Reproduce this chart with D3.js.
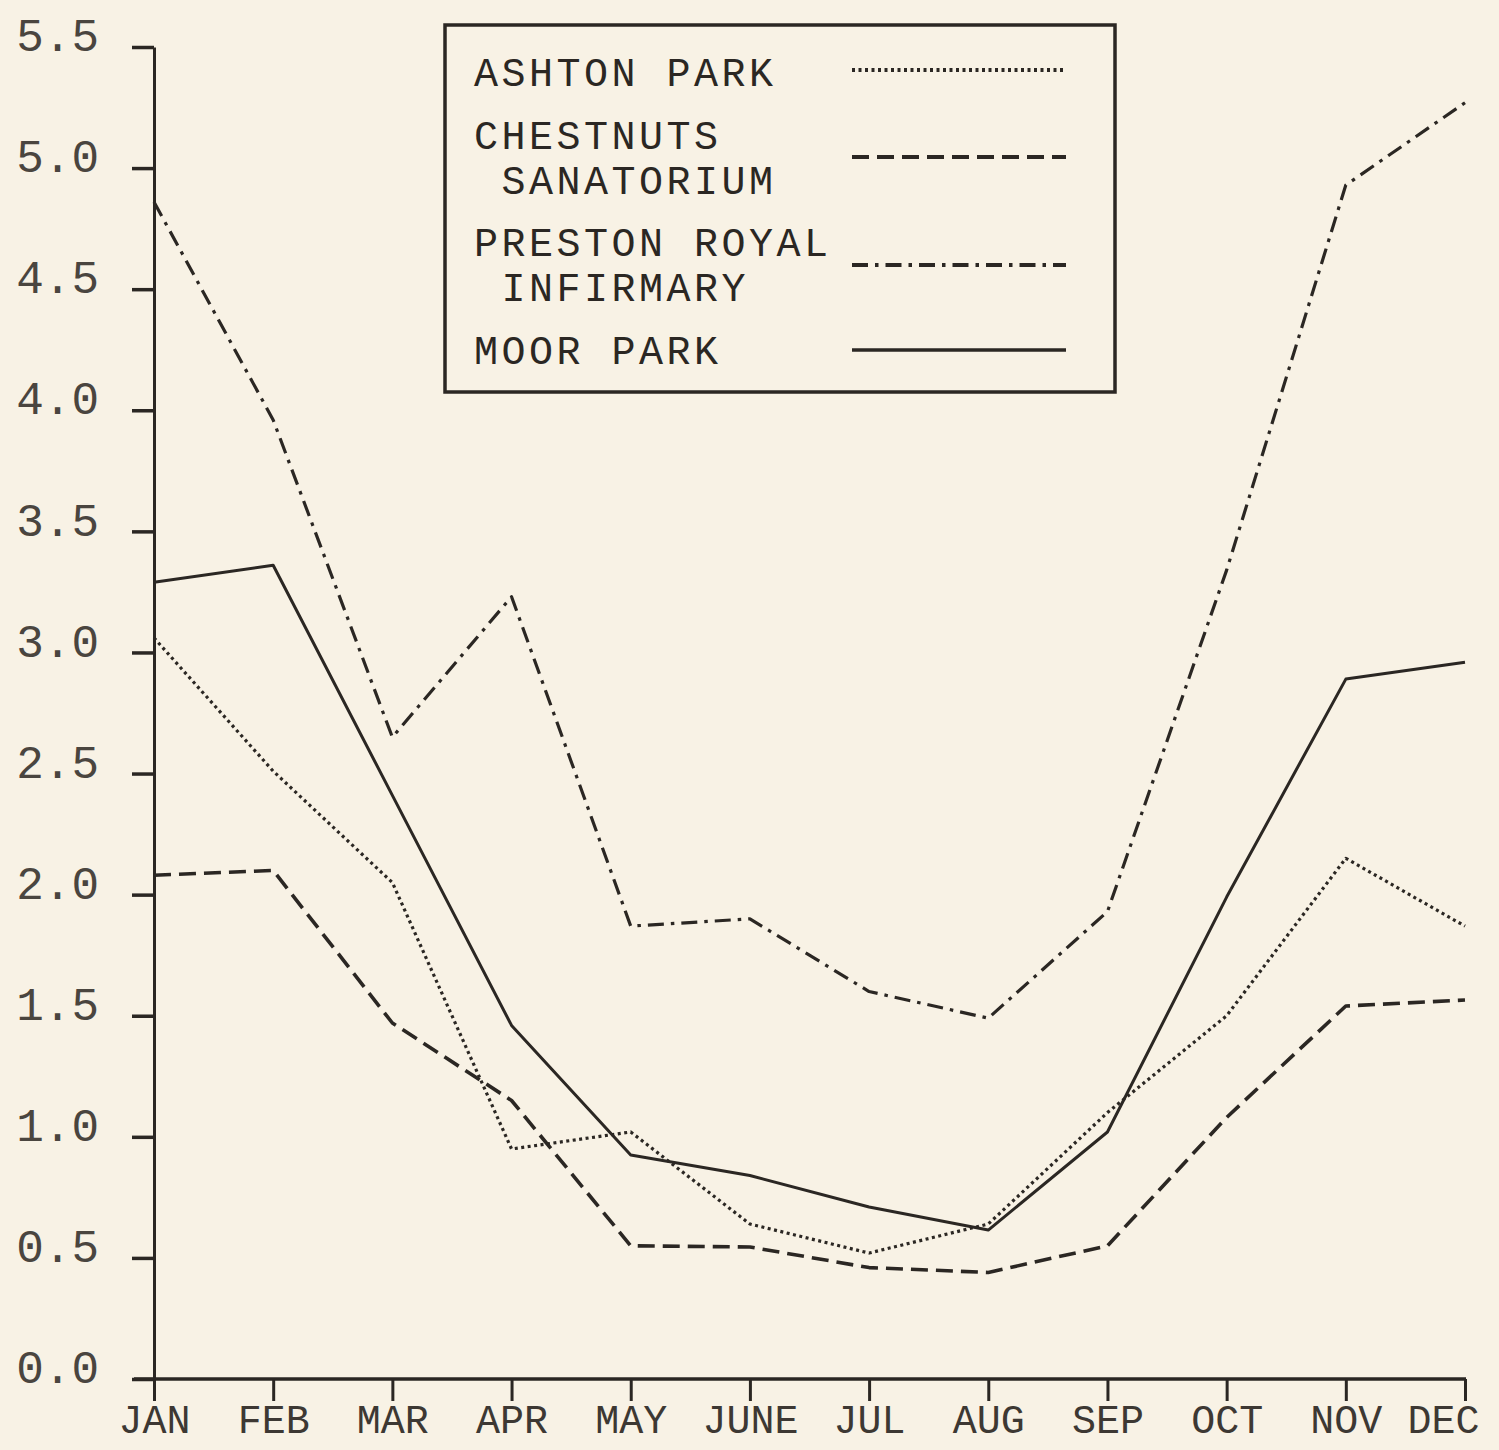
<!DOCTYPE html>
<html>
<head>
<meta charset="utf-8">
<script src="https://cdn.jsdelivr.net/npm/d3@7"></script>
<style>
  html, body { margin: 0; padding: 0; background: #f8f2e5; }
  svg { display: block; }
  text { font-family: "Liberation Mono", "Courier New", monospace; }
</style>
</head>
<body>
<svg width="1499" height="1450"></svg>
<script>
const months = ['JAN', 'FEB', 'MAR', 'APR', 'MAY', 'JUNE', 'JUL', 'AUG', 'SEP', 'OCT', 'NOV', 'DEC'];
const yTicks = [0, 0.5, 1, 1.5, 2, 2.5, 3, 3.5, 4, 4.5, 5, 5.5];

const ashtonPark = [3.06, 2.51, 2.05, 0.95, 1.02, 0.64, 0.52, 0.64, 1.10, 1.50, 2.15, 1.87];
const chestnuts = [2.08, 2.10, 1.47, 1.15, 0.55, 0.545, 0.46, 0.44, 0.55, 1.08, 1.54, 1.565];
const preston = [4.86, 3.96, 2.65, 3.23, 1.87, 1.90, 1.60, 1.49, 1.93, 3.34, 4.93, 5.27];
const moorPark = [3.29, 3.36, 2.41, 1.46, 0.925, 0.84, 0.71, 0.615, 1.02, 1.99, 2.89, 2.96];

const seriesNames = [['ASHTON PARK'], ['CHESTNUTS', ' SANATORIUM'], ['PRESTON ROYAL', ' INFIRMARY'], ['MOOR PARK']];

const ink = '#2b2723';
const series = [
  {name: seriesNames[0], values: ashtonPark, dash: '3,3.5', width: 3.2},
  {name: seriesNames[1], values: chestnuts, dash: '17,8', width: 3.6},
  {name: seriesNames[2], values: preston, dash: '16,7,3.5,7', width: 3.2},
  {name: seriesNames[3], values: moorPark, dash: null, width: 3},
];

const svg = d3.select('svg');

const x = d3.scalePoint()
    .domain(months)
    .range([154, 1465]);

const y = d3.scaleLinear()
    .domain([0, 5.5])
    .range([1379, 47]);

// y axis
const yAxis = svg.append('g')
    .attr('transform', `translate(${x('JAN')},0)`)
    .call(d3.axisLeft(y)
        .tickValues(yTicks)
        .tickFormat(d3.format('.1f'))
        .tickSize(22)
        .tickSizeOuter(0)
        .tickPadding(33));
yAxis.select('.domain').attr('stroke', ink).attr('stroke-width', 3);
yAxis.selectAll('.tick line').attr('stroke', ink).attr('stroke-width', 3.5);
yAxis.selectAll('.tick text')
    .attr('dy', '0.08em')
    .style('font-size', '46px')
    .attr('fill', '#4a453f');

// x axis
const xAxis = svg.append('g')
    .attr('transform', `translate(0,${y(0)})`)
    .call(d3.axisBottom(x)
        .tickSize(22)
        .tickSizeOuter(0)
        .tickPadding(4));
xAxis.select('.domain').remove();
xAxis.append('line')
    .attr('x1', x('JAN') - 20)
    .attr('x2', x('DEC') + 1)
    .attr('stroke', ink)
    .attr('stroke-width', 3.5);
xAxis.selectAll('.tick line').attr('stroke', ink).attr('stroke-width', 3);
xAxis.selectAll('.tick text')
    .style('font-size', '40px')
    .attr('fill', '#3d3833')
    .attr('dx', d => d === 'DEC' ? -22 : 0);

// lines
const line = d3.line()
    .x((d, i) => x(months[i]))
    .y(d => y(d));

svg.append('g')
    .selectAll('path')
    .data(series)
    .enter()
    .append('path')
    .attr('d', d => line(d.values))
    .attr('fill', 'none')
    .attr('stroke', ink)
    .attr('stroke-width', d => d.width)
    .attr('stroke-dasharray', d => d.dash)
    .attr('stroke-linejoin', 'round');

// legend
const legend = svg.append('g');
legend.append('rect')
    .attr('x', 445)
    .attr('y', 25)
    .attr('width', 670)
    .attr('height', 367)
    .attr('fill', 'none')
    .attr('stroke', ink)
    .attr('stroke-width', 3.5);

const rowText = [86, 149, 256, 364];
const rowLine = [70, 157, 265, 350];

const rows = legend.selectAll('g.row')
    .data(series)
    .enter()
    .append('g')
    .attr('class', 'row');

rows.append('text')
    .attr('x', 474)
    .attr('y', (d, i) => rowText[i])
    .attr('fill', ink)
    .style('font-size', '40px')
    .style('letter-spacing', '3.5px')
    .style('white-space', 'pre')
    .selectAll('tspan')
    .data(d => d.name)
    .enter()
    .append('tspan')
    .attr('x', 474)
    .attr('dy', (d, i) => i === 0 ? 0 : 45)
    .text(d => d);

rows.append('line')
    .attr('x1', 852)
    .attr('x2', 1066)
    .attr('y1', (d, i) => rowLine[i])
    .attr('y2', (d, i) => rowLine[i])
    .attr('stroke', ink)
    .attr('stroke-width', d => d.width + 0.6)
    .attr('stroke-dasharray', d => d.dash);
</script>
</body>
</html>
